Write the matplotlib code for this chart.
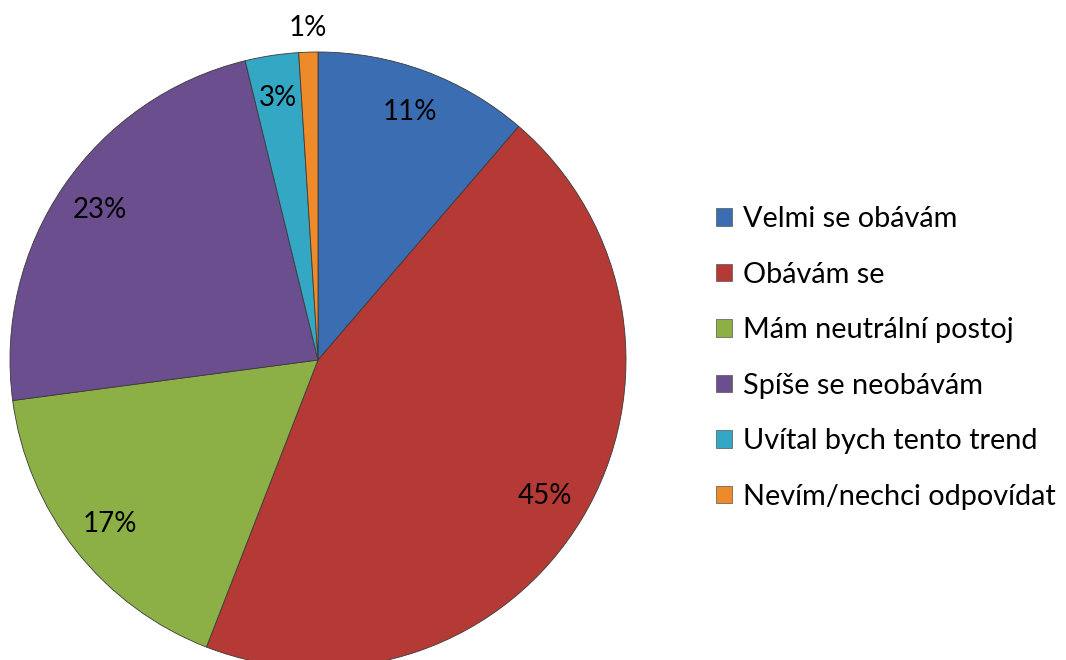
import matplotlib
matplotlib.use("Agg")
import matplotlib.pyplot as plt
from matplotlib.patches import Patch
import numpy as np

categories = ["Velmi se obávám", "Obávám se", "Mám neutrální postoj",
              "Spíše se neobávám", "Uvítal bych tento trend", "Nevím/nechci odpovídat"]
values = [11.3, 44.6, 17.0, 23.3, 2.8, 1.0]
colors = ["#3B6DB2", "#B53A36", "#8DB046", "#6A4E8E", "#33A7C3", "#EE8A2A"]

plt.rcParams['font.family'] = ['Lato', 'DejaVu Sans']

fig = plt.figure(figsize=(10.66, 6.6), dpi=100)
W, H = 1066, 660
cx, cy, r = 318, 360, 308
ax = fig.add_axes([(cx - r) / W, (H - cy - r) / H, 2 * r / W, 2 * r / H])
wedges, texts, autotexts = ax.pie(
    values, colors=colors, startangle=90, counterclock=False,
    autopct=lambda p: f"{p:.0f}%", pctdistance=0.86,
    wedgeprops=dict(edgecolor="#3a3a3a", linewidth=0.6),
    textprops=dict(fontsize=20, color="black"))
# small last slice label sits outside
ang = np.deg2rad((wedges[-1].theta1 + wedges[-1].theta2) / 2)
autotexts[-1].set_position((1.08 * np.cos(ang), 1.08 * np.sin(ang)))
ax.set_xlim(-1, 1)
ax.set_ylim(-1, 1)
ax.set_aspect('equal')
ax.axis('off')

handles = [Patch(facecolor=c, edgecolor="#555555", linewidth=0.5) for c in colors]
fig.legend(handles, categories, loc="center left", bbox_to_anchor=(716 / W, 1 - 358 / H),
           frameon=False, fontsize=20.8, handlelength=0.55, handleheight=0.55,
           handletextpad=0.4, labelspacing=1.02, borderpad=0, borderaxespad=0)

fig.savefig("out.png", dpi=100)
